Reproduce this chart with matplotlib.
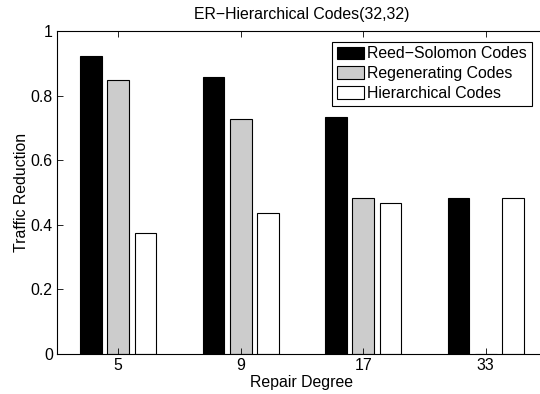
#!/usr/bin/env python3
# -*- coding: utf-8 -*-
import numpy as np
import matplotlib
matplotlib.use("Agg")
import matplotlib.pyplot as plt

# repair degree groups and traffic reduction per code family
degrees = ["5", "9", "17", "33"]
reed_solomon = [0.923, 0.859, 0.734, 0.484]
regenerating = [0.847, 0.727, 0.484, 0.0]
hierarchical = [0.375, 0.437, 0.468, 0.484]

series_names = ["Reed\u2212Solomon Codes", "Regenerating Codes", "Hierarchical Codes"]
colors = ["black", "#cccccc", "white"]

FONTSIZE = 11.4

plt.rcParams["font.family"] = ["Liberation Sans", "DejaVu Sans"]


def main():
    fig = plt.figure(figsize=(5.4, 3.94), dpi=100)
    # axes run past the right edge, like the exported matlab figure
    ax = fig.add_axes([57 / 540, 40 / 394, 490 / 540, 323 / 394])

    x = np.arange(1, len(degrees) + 1)
    nser = 3
    group = min(0.8, nser / (nser + 1.5))
    step = group / nser
    width = 0.8 * step

    for i, (vals, name, col) in enumerate(zip([reed_solomon, regenerating, hierarchical],
                                              series_names, colors)):
        off = (i - (nser - 1) / 2) * step
        ax.bar(x + off, vals, width=width, color=col, edgecolor="black",
               linewidth=0.8, label=name)

    ax.set_xlim(0.5, 4.5)
    ax.set_ylim(0, 1)
    ax.set_xticks(x)
    ax.set_xticklabels(degrees)
    ax.set_yticks([0, 0.2, 0.4, 0.6, 0.8, 1])
    ax.set_yticklabels(["0", "0.2", "0.4", "0.6", "0.8", "1"])
    ax.tick_params(direction="in", length=4, width=0.6, top=True, right=True,
                   labelsize=FONTSIZE, pad=3)
    for s in ax.spines.values():
        s.set_linewidth(0.8)

    ax.set_xlabel("Repair Degree", fontsize=FONTSIZE, labelpad=1)
    ax.set_ylabel("Traffic Reduction", fontsize=FONTSIZE, labelpad=1)
    ax.set_title("ER\u2212Hierarchical Codes(32,32)", fontsize=FONTSIZE, pad=9)

    leg = ax.legend(loc="upper right", bbox_to_anchor=(531.5 / 540, 1 - 41.5 / 394),
                    bbox_transform=fig.transFigure, borderaxespad=0,
                    fontsize=FONTSIZE, fancybox=False, edgecolor="black",
                    framealpha=1, handlelength=1.69, handleheight=0.84,
                    handletextpad=0.19, labelspacing=0.3, borderpad=0.3)
    leg.get_frame().set_linewidth(0.8)

    fig.savefig("out.png", dpi=100)


if __name__ == "__main__":
    main()
